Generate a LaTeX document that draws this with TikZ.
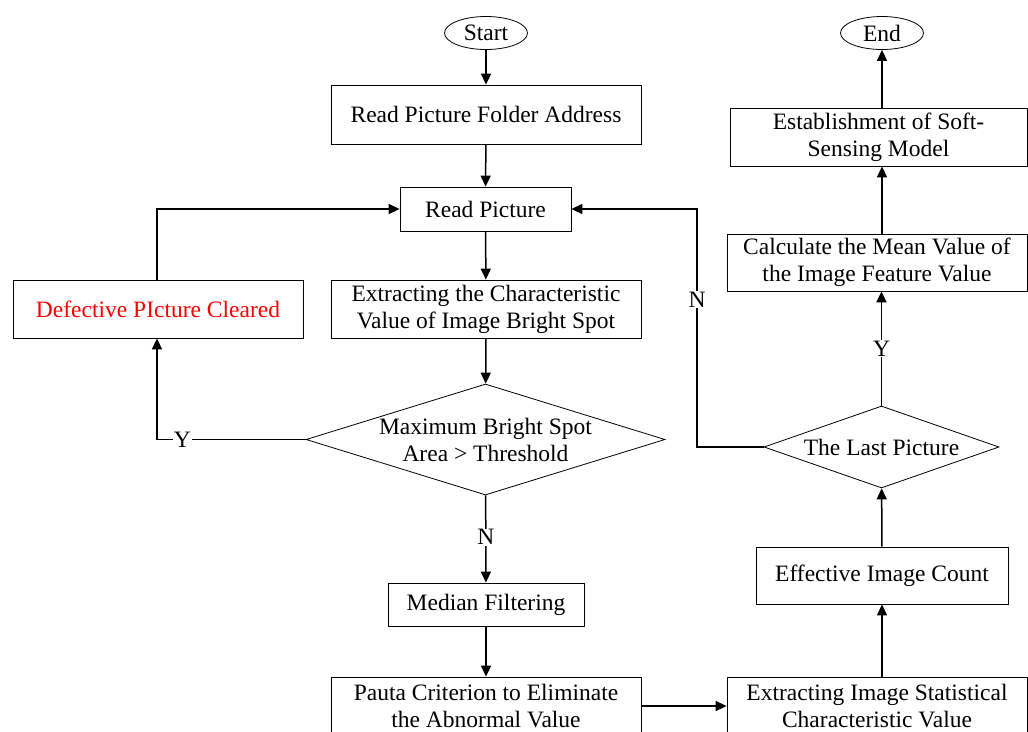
\documentclass[tikz,border=0pt]{standalone}
\usepackage{fontspec}
\setmainfont{Liberation Serif}
\usetikzlibrary{shapes.geometric,arrows.meta}
\begin{document}
\begin{tikzpicture}[x=1pt,y=-1pt,
  every node/.style={font=\fontsize{23.5}{27}\selectfont, align=center},
  procbox/.style={draw, line width=0.8pt, rectangle, inner sep=0pt},
  term/.style={draw, line width=0.8pt, ellipse, minimum width=83pt, minimum height=33pt, inner sep=0pt},
  decide/.style={draw, line width=0.8pt, diamond, inner sep=0pt},
  conn/.style={line width=1.5pt, -{Triangle[length=11pt,width=10pt]}},
  lbl/.style={fill=white, inner sep=1pt}
]
\path[use as bounding box] (0,0) rectangle (1028,731);

\node[term] (start) at (486,33) {Start};
\node[procbox, minimum width=310pt, minimum height=59pt] (folder) at (486,114.5) {Read Picture Folder Address};
\node[procbox, minimum width=171pt, minimum height=44pt] (read) at (485.5,209) {Read Picture};
\node[procbox, minimum width=310pt, minimum height=58pt] (extract) at (486,309) {Extracting the Characteristic\\Value of Image Bright Spot};
\node[decide, minimum width=359pt, minimum height=111pt] (d1) at (485.5,439.5) {};
\node (d1t) at (485.5,439.5) {Maximum Bright Spot\\Area > Threshold};
\node[procbox, minimum width=196pt, minimum height=43pt] (median) at (486,604.5) {Median Filtering};
\node[procbox, minimum width=310pt, minimum height=58pt] (pauta) at (486,706) {Pauta Criterion to Eliminate\\the Abnormal Value};
\node[procbox, minimum width=300pt, minimum height=58pt] (stat) at (877,706) {Extracting Image Statistical\\Characteristic Value};
\node[procbox, minimum width=252pt, minimum height=57pt] (eff) at (882,575.5) {Effective Image Count};
\node[decide, minimum width=235pt, minimum height=82pt] (d2) at (881.5,447) {};
\node (d2t) at (881.5,447) {The Last Picture};
\node[procbox, minimum width=300pt, minimum height=57pt] (mean) at (877,262.5) {Calculate the Mean Value of\\the Image Feature Value};
\node[procbox, minimum width=297pt, minimum height=58pt] (est) at (878.5,137) {Establishment of Soft-\\Sensing Model};
\node[term] (end) at (882,33) {End};
\node[procbox, minimum width=290pt, minimum height=58pt, text=red] (defect) at (158,309) {Defective PIcture Cleared};

\coordinate (nleft) at (697,447);
\coordinate (yleft) at (157,439.5);

\draw[conn] (start) -- (folder);
\draw[conn] (folder) -- (read);
\draw[conn] (read) -- (extract);
\draw[conn] (extract) -- (d1);
\draw[conn] (d1) -- node[lbl, pos=0.48] {N} (median);
\draw[conn] (median) -- (pauta);
\draw[conn] (pauta) -- (stat);
\draw[conn] (eff.south |- stat.north) -- (eff.south);
\draw[conn] (eff) -- (d2);
\draw[conn] (d2.north) -- node[lbl, pos=0.5] {Y} (d2.north |- mean.south);
\draw[conn] (end.south |- mean.north) -- (end.south |- est.south);
\draw[conn] (end.south |- est.north) -- (end.south);
\draw[conn] (d2.west) -- (nleft) -- node[lbl, pos=0.62] {N} (nleft |- read.east) -- (read.east);
\draw[conn] (d1.west) -- node[lbl, pos=0.83] {Y} (yleft) -- (yleft |- defect.south);
\draw[conn] (yleft |- defect.north) -- (yleft |- read.west) -- (read.west);
\end{tikzpicture}
\end{document}
